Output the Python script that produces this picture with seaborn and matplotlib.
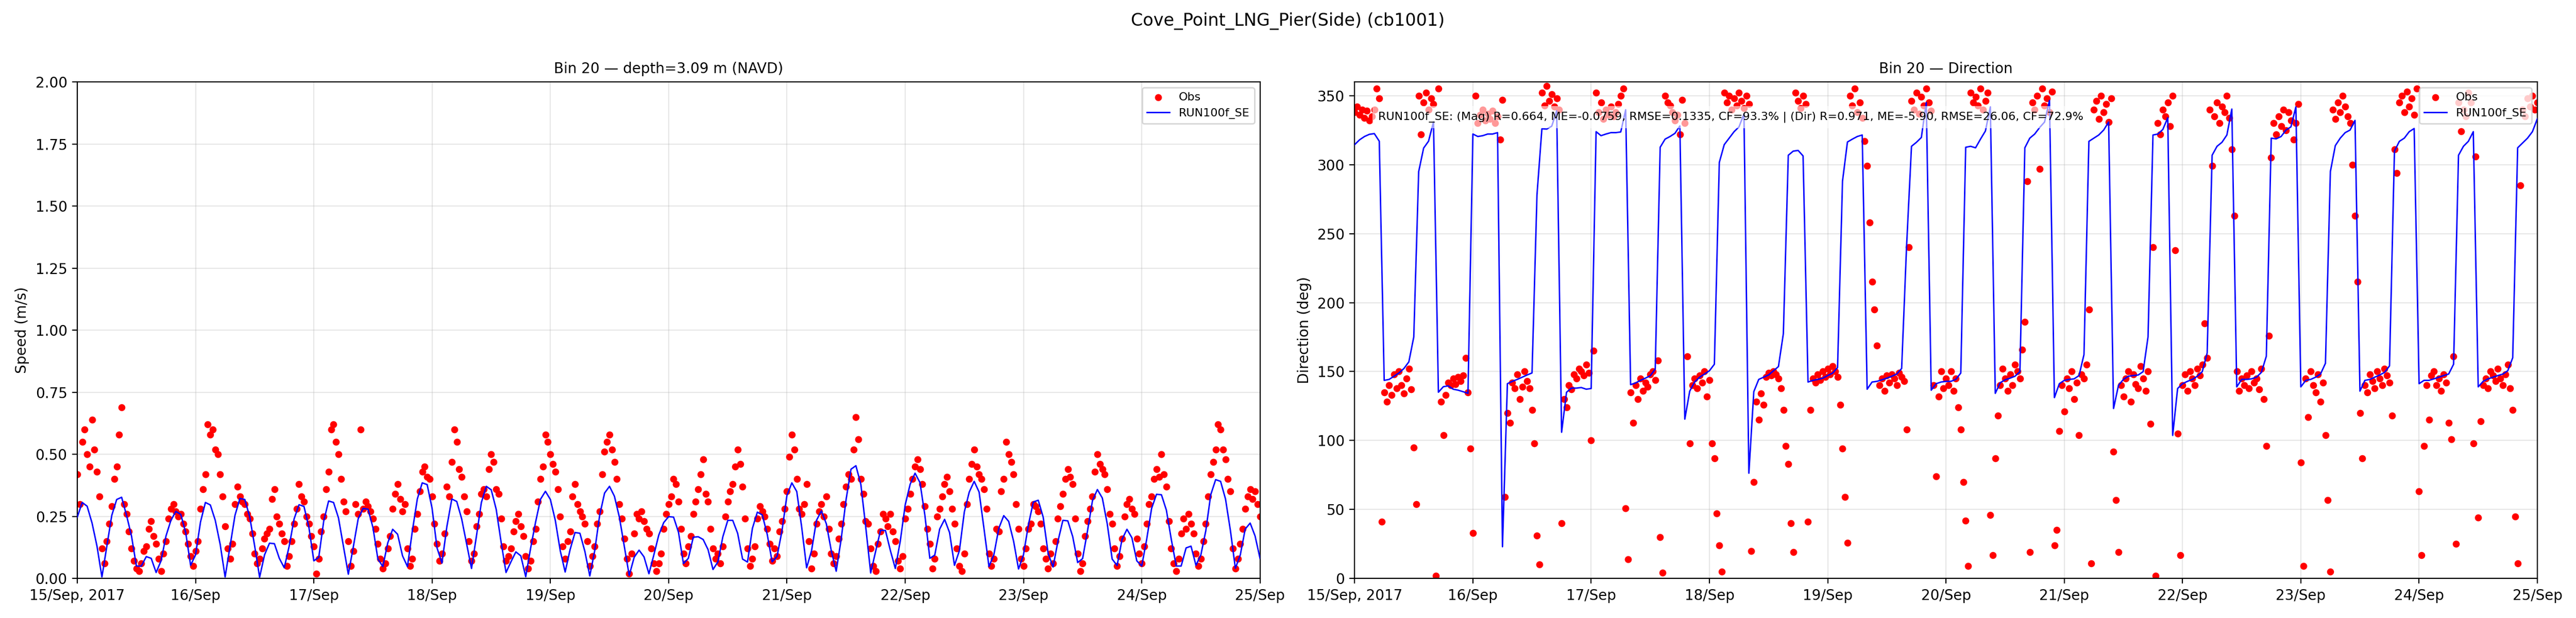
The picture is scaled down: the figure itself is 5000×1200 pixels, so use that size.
import numpy as np
import pandas as pd
import matplotlib
matplotlib.use("Agg")
import matplotlib.pyplot as plt
import seaborn as sns

# -----------------------------
# Data
# -----------------------------
start = pd.Timestamp("2017-09-15 00:00")
end = pd.Timestamp("2017-09-25 00:00")

station = "Cove_Point_LNG_Pier(Side) (cb1001)"
run_name = "RUN100f_SE"
stats_text = ("RUN100f_SE: (Mag) R=0.664, ME=-0.0759, RMSE=0.1335, CF=93.3% | "
              "(Dir) R=0.971, ME=-5.90, RMSE=26.06, CF=72.9%")

day_labels = ["15/Sep, 2017", "16/Sep", "17/Sep", "18/Sep", "19/Sep", "20/Sep",
              "21/Sep", "22/Sep", "23/Sep", "24/Sep", "25/Sep"]

# observed speed (m/s), every 30 min
obs_speed = [
    0.42, 0.30, 0.55, 0.60, 0.50, 0.45, 0.64, 0.52, 0.43, 0.33, 0.12, 0.06, 0.15, 0.22, 0.29, 0.40,
    0.45, 0.58, 0.69, 0.30, 0.26, 0.19, 0.12, 0.07, 0.04, 0.03, 0.06, 0.11, 0.13, 0.20, 0.23, 0.17,
    0.14, 0.08, 0.03, 0.10, 0.15, 0.24, 0.28, 0.30, 0.27, 0.25, 0.26, 0.22, 0.19, 0.14, 0.09, 0.05,
    0.11, 0.15, 0.28, 0.36, 0.42, 0.62, 0.58, 0.60, 0.52, 0.50, 0.42, 0.33, 0.21, 0.12, 0.08, 0.14,
    0.30, 0.37, 0.33, 0.31, 0.30, 0.26, 0.24, 0.18, 0.10, 0.06, 0.08, 0.12, 0.16, 0.18, 0.20, 0.32,
    0.36, 0.25, 0.22, 0.18, 0.15, 0.05, 0.09, 0.15, 0.22, 0.28, 0.38, 0.33, 0.31, 0.25, 0.22, 0.17,
    0.13, 0.02, 0.08, 0.19, 0.25, 0.36, 0.43, 0.60, 0.62, 0.55, 0.50, 0.40, 0.31, 0.27, 0.15, 0.05,
    0.11, 0.30, 0.26, 0.60, 0.28, 0.31, 0.29, 0.27, 0.24, 0.20, 0.14, 0.08, 0.04, 0.06, 0.12, 0.17,
    0.28, 0.34, 0.38, 0.32, 0.27, 0.30, 0.12, 0.05, 0.08, 0.20, 0.26, 0.35, 0.43, 0.45, 0.41, 0.40,
    0.33, 0.22, 0.14, 0.07, 0.10, 0.18, 0.37, 0.33, 0.47, 0.60, 0.55, 0.44, 0.41, 0.33, 0.27, 0.15,
    0.07, 0.10, 0.21, 0.26, 0.34, 0.36, 0.33, 0.44, 0.50, 0.47, 0.36, 0.34, 0.24, 0.13, 0.07, 0.09,
    0.12, 0.19, 0.23, 0.26, 0.21, 0.17, 0.09, 0.04, 0.07, 0.15, 0.20, 0.31, 0.40, 0.45, 0.58, 0.55,
    0.50, 0.46, 0.43, 0.36, 0.25, 0.13, 0.08, 0.15, 0.19, 0.33, 0.38, 0.30, 0.27, 0.25, 0.22, 0.15,
    0.05, 0.09, 0.13, 0.22, 0.27, 0.42, 0.51, 0.55, 0.58, 0.52, 0.47, 0.40, 0.30, 0.24, 0.16, 0.08,
    0.02, 0.10, 0.18, 0.26, 0.24, 0.27, 0.23, 0.20, 0.18, 0.12, 0.06, 0.03, 0.06, 0.10, 0.20, 0.26,
    0.30, 0.33, 0.40, 0.38, 0.31, 0.20, 0.10, 0.06, 0.13, 0.17, 0.26, 0.31, 0.36, 0.42, 0.48, 0.34,
    0.31, 0.20, 0.12, 0.08, 0.10, 0.06, 0.13, 0.25, 0.31, 0.35, 0.38, 0.45, 0.52, 0.46, 0.37, 0.24,
    0.12, 0.05, 0.08, 0.13, 0.24, 0.29, 0.27, 0.25, 0.20, 0.14, 0.07, 0.12, 0.09, 0.19, 0.23, 0.28,
    0.35, 0.49, 0.58, 0.52, 0.40, 0.28, 0.26, 0.30, 0.38, 0.15, 0.04, 0.10, 0.22, 0.27, 0.30, 0.25,
    0.33, 0.20, 0.10, 0.06, 0.09, 0.16, 0.22, 0.30, 0.37, 0.42, 0.40, 0.52, 0.65, 0.56, 0.40, 0.34,
    0.23, 0.22, 0.12, 0.05, 0.03, 0.14, 0.19, 0.26, 0.24, 0.21, 0.26, 0.19, 0.15, 0.07, 0.04, 0.09,
    0.24, 0.28, 0.34, 0.40, 0.45, 0.48, 0.44, 0.38, 0.29, 0.20, 0.14, 0.04, 0.08, 0.25, 0.28, 0.33,
    0.38, 0.41, 0.35, 0.28, 0.22, 0.12, 0.05, 0.03, 0.10, 0.30, 0.40, 0.46, 0.52, 0.45, 0.42, 0.40,
    0.36, 0.28, 0.10, 0.05, 0.08, 0.20, 0.19, 0.35, 0.40, 0.55, 0.50, 0.47, 0.42, 0.30, 0.20, 0.08,
    0.05, 0.12, 0.20, 0.22, 0.30, 0.29, 0.27, 0.22, 0.12, 0.08, 0.04, 0.10, 0.06, 0.15, 0.24, 0.29,
    0.34, 0.40, 0.44, 0.41, 0.38, 0.24, 0.10, 0.03, 0.06, 0.17, 0.23, 0.28, 0.33, 0.43, 0.50, 0.46,
    0.44, 0.42, 0.36, 0.26, 0.22, 0.12, 0.05, 0.09, 0.16, 0.25, 0.30, 0.32, 0.28, 0.26, 0.16, 0.10,
    0.06, 0.13, 0.22, 0.30, 0.33, 0.40, 0.44, 0.41, 0.50, 0.42, 0.37, 0.23, 0.12, 0.06, 0.03, 0.08,
    0.18, 0.24, 0.20, 0.26, 0.22, 0.18, 0.10, 0.05, 0.08, 0.15, 0.22, 0.33, 0.42, 0.47, 0.52, 0.62,
    0.60, 0.52, 0.48, 0.40, 0.35, 0.12, 0.04, 0.08, 0.14, 0.20, 0.28, 0.33, 0.36, 0.32, 0.35, 0.30,
    0.25,
]

# model speed (m/s), hourly
model_speed = [
    0.247, 0.306, 0.291, 0.223, 0.130, 0.006, 0.130, 0.254, 0.318, 0.327, 0.254, 0.171,
    0.050, 0.050, 0.088, 0.081, 0.024, 0.071, 0.171, 0.234, 0.270, 0.258, 0.185, 0.053,
    0.095, 0.227, 0.306, 0.296, 0.234, 0.137, 0.006, 0.130, 0.254, 0.322, 0.318, 0.247,
    0.130, 0.005, 0.095, 0.142, 0.140, 0.081, 0.043, 0.130, 0.240, 0.297, 0.290, 0.206,
    0.071, 0.085, 0.230, 0.312, 0.306, 0.244, 0.130, 0.017, 0.126, 0.240, 0.282, 0.279,
    0.205, 0.078, 0.048, 0.143, 0.198, 0.178, 0.091, 0.048, 0.192, 0.320, 0.385, 0.378,
    0.282, 0.123, 0.062, 0.209, 0.320, 0.310, 0.240, 0.140, 0.040, 0.171, 0.306, 0.371,
    0.357, 0.279, 0.147, 0.024, 0.067, 0.107, 0.091, 0.007, 0.123, 0.227, 0.319, 0.351,
    0.318, 0.234, 0.112, 0.026, 0.116, 0.185, 0.182, 0.109, 0.010, 0.112, 0.254, 0.344,
    0.371, 0.331, 0.247, 0.130, 0.012, 0.085, 0.114, 0.087, 0.019, 0.095, 0.175, 0.225,
    0.249, 0.247, 0.186, 0.060, 0.081, 0.166, 0.168, 0.157, 0.116, 0.036, 0.067, 0.168,
    0.234, 0.234, 0.182, 0.078, 0.066, 0.202, 0.267, 0.256, 0.178, 0.067, 0.089, 0.192,
    0.334, 0.385, 0.350, 0.206, 0.043, 0.112, 0.234, 0.272, 0.220, 0.112, 0.029, 0.157,
    0.317, 0.440, 0.454, 0.379, 0.206, 0.022, 0.109, 0.194, 0.193, 0.112, 0.040, 0.150,
    0.296, 0.379, 0.424, 0.386, 0.254, 0.081, 0.094, 0.199, 0.238, 0.185, 0.053, 0.112,
    0.268, 0.348, 0.391, 0.348, 0.199, 0.048, 0.096, 0.202, 0.253, 0.230, 0.150, 0.038,
    0.095, 0.216, 0.308, 0.315, 0.247, 0.102, 0.046, 0.150, 0.234, 0.232, 0.168, 0.064,
    0.080, 0.192, 0.313, 0.358, 0.324, 0.220, 0.078, 0.052, 0.157, 0.198, 0.164, 0.071,
    0.050, 0.157, 0.282, 0.339, 0.337, 0.275, 0.157, 0.050, 0.050, 0.123, 0.130, 0.053,
    0.095, 0.192, 0.337, 0.398, 0.391, 0.320, 0.192, 0.041, 0.095, 0.199, 0.223, 0.171,
    0.081,
]

# observed direction (deg), every 30 min
obs_dir = [
    338, 342, 336, 340, 334, 339, 332, 335, 340, 355, 348, 41, 135, 128, 140, 133,
    148, 138, 150, 140, 134, 145, 152, 137, 95, 54, 350, 322, 345, 352, 340, 348,
    344, 2, 355, 128, 104, 133, 142, 140, 145, 141, 146, 143, 147, 160, 135, 94,
    33, 350, 330, 336, 340, 332, 337, 333, 339, 330, 335, 318, 347, 59, 120, 113,
    142, 138, 148, 130, 139, 150, 143, 138, 122, 98, 31, 10, 352, 343, 357, 346,
    351, 342, 348, 340, 40, 130, 124, 140, 137, 148, 145, 152, 150, 147, 155, 149,
    100, 165, 352, 338, 345, 333, 340, 336, 342, 335, 338, 344, 350, 355, 51, 14,
    135, 113, 140, 130, 145, 136, 142, 139, 148, 150, 144, 158, 30, 4, 350, 345,
    343, 338, 332, 336, 322, 347, 330, 161, 98, 140, 145, 138, 147, 142, 150, 132,
    144, 98, 87, 47, 24, 5, 352, 345, 350, 340, 348, 343, 352, 346, 341, 350,
    344, 20, 70, 128, 115, 134, 126, 146, 149, 147, 150, 148, 145, 138, 122, 96,
    83, 40, 19, 352, 346, 341, 350, 344, 41, 122, 145, 142, 148, 144, 150, 146,
    152, 148, 154, 150, 146, 126, 94, 59, 26, 350, 343, 355, 338, 345, 334, 317,
    299, 258, 215, 195, 169, 140, 145, 136, 147, 142, 148, 145, 140, 149, 146, 143,
    108, 240, 346, 340, 352, 337, 349, 343, 355, 345, 339, 140, 74, 132, 150, 138,
    145, 140, 150, 136, 145, 124, 108, 70, 42, 9, 352, 345, 349, 343, 355, 340,
    346, 352, 46, 17, 87, 118, 140, 152, 145, 136, 148, 140, 155, 150, 145, 166,
    186, 288, 19, 345, 340, 350, 297, 355, 343, 348, 338, 353, 24, 35, 107, 140,
    121, 145, 138, 150, 130, 142, 104, 148, 145, 155, 195, 11, 340, 346, 333, 350,
    338, 344, 331, 348, 92, 57, 19, 140, 132, 145, 150, 128, 148, 141, 138, 154,
    145, 136, 150, 112, 240, 2, 330, 322, 340, 335, 345, 328, 350, 238, 105, 17,
    140, 148, 136, 150, 145, 140, 152, 147, 155, 185, 160, 340, 299, 335, 345, 330,
    342, 338, 350, 334, 311, 263, 150, 136, 145, 140, 147, 138, 150, 142, 145, 137,
    152, 130, 96, 176, 305, 330, 322, 335, 328, 340, 325, 338, 332, 318, 330, 344,
    84, 9, 145, 117, 150, 140, 135, 148, 128, 142, 104, 57, 5, 340, 333, 345,
    338, 350, 342, 335, 330, 300, 263, 215, 120, 87, 140, 135, 148, 143, 138, 150,
    145, 140, 152, 147, 142, 118, 311, 294, 345, 350, 338, 353, 342, 348, 336, 355,
    63, 17, 96, 140, 115, 147, 150, 140, 145, 136, 148, 142, 113, 101, 161, 25,
    345, 324, 340, 335, 352, 345, 98, 306, 44, 114, 140, 145, 138, 150, 147, 143,
    152, 145, 140, 148, 155, 138, 122, 45, 11, 285, 340, 335, 348, 342, 350, 340,
    345,
]

# model direction (deg), hourly
model_dir = [
    314.5, 318, 320.4, 322, 322.5, 317, 143.6, 144.3, 146.6, 149, 152.2, 157,
    175, 295, 312, 317, 331, 135, 139, 139.6, 137.2, 136.5, 135.4, 134.2,
    322.2, 320.4, 321, 322.2, 322.2, 323.2, 23, 141.2, 142.9, 144.3, 145.9, 147.5,
    149, 278, 326, 325.8, 327.9, 339, 106, 135, 138, 138, 138.4, 137.2,
    137.7, 323.9, 321, 322.2, 323.2, 323.2, 323.7, 339.8, 140.5, 141.7, 143.6, 145.2,
    147, 151.8, 312.6, 318.5, 320.4, 322.7, 328.1, 115.5, 135.8, 142.4, 145.9, 148.2,
    150.6, 155.3, 301.6, 314.5, 319.2, 323.9, 327.4, 336.8, 76.3, 135.4, 144.3, 145.9,
    147.5, 150.6, 153.6, 177.5, 306.8, 309.8, 310.3, 306.3, 142.4, 143.6, 144.3, 145.2,
    147.1, 148.9, 152.9, 288, 316.4, 318.5, 320.4, 321.5, 137.2, 142.4, 142.9, 144,
    145.2, 146.6, 148.2, 152.2, 240.7, 313.3, 316.2, 319.7, 345, 136.5, 141.2, 142.4,
    142.9, 142.9, 144.3, 148.9, 312.6, 313.3, 312.2, 318.5, 324.4, 341.9, 134.2, 141.9,
    144, 145.2, 146.6, 149.9, 312.2, 319.2, 322.2, 326.9, 330.9, 346.6, 131.1, 141.2,
    143.6, 144.3, 144.7, 147.1, 162.3, 316.9, 319.2, 321.5, 325.1, 330.9, 123.2, 140,
    144.3, 146.6, 147.1, 147.5, 149.9, 175.2, 321.5, 322.2, 325.5, 334, 103.7, 137.7,
    141.2, 142.9, 144.3, 146.6, 149.9, 163.5, 306.8, 313.3, 316.2, 321.5, 340.3, 138.9,
    144.3, 144.3, 144.7, 145.9, 149.4, 161.1, 319.2, 318.7, 320.4, 325.1, 327.4, 341.9,
    138.9, 143.6, 144.3, 145.9, 148.2, 156, 295, 313.8, 319.2, 323.2, 325.1, 332.1,
    135.8, 143.6, 144.3, 145.9, 147.5, 149.4, 154.1, 309.8, 316.9, 319.2, 323.9, 326.2,
    141.2, 143.6, 143.6, 144.7, 145.9, 147.1, 148.2, 155.3, 306.8, 313.3, 316.9, 323.9,
    138.9, 142.9, 144.7, 145.9, 147.1, 148.2, 150.6, 160, 312.2, 315.7, 319.2, 323.9,
    333.3,
]

# time stamps for the series
t_obs = pd.date_range(start, periods=len(obs_speed), freq="30min")
t_model = pd.date_range(start, periods=len(model_speed), freq="h")
day_ticks = pd.date_range(start, end, freq="D")

# -----------------------------
# Plot
# -----------------------------
fig, axes = plt.subplots(1, 2, figsize=(25, 6), dpi=200)
plt.subplots_adjust(left=0.030, right=0.985, bottom=0.064, top=0.8675, wspace=0.08)

panels = [
    (axes[0], obs_speed, model_speed, "Bin 20 \u2014 depth=3.09 m (NAVD)", "Speed (m/s)", (0, 2)),
    (axes[1], obs_dir, model_dir, "Bin 20 \u2014 Direction", "Direction (deg)", (0, 360)),
]

for ax, obs, mod, title, ylabel, ylim in panels:
    sns.scatterplot(x=t_obs, y=np.array(obs, dtype=float), ax=ax, color="red",
                    s=24, linewidth=0, label="Obs", zorder=2)
    sns.lineplot(x=t_model, y=np.array(mod, dtype=float), ax=ax, color="blue",
                 linewidth=1, label=run_name, zorder=3)
    ax.set_xlim(start, end)
    ax.set_ylim(*ylim)
    ax.set_xticks(day_ticks)
    ax.set_xticklabels(day_labels)
    ax.set_title(title, fontsize=10)
    ax.set_xlabel("")
    ax.set_ylabel(ylabel)
    ax.grid(True, alpha=0.3)
    ax.legend(loc="upper right", fontsize=8)

axes[1].text(0.02, 0.94, stats_text, transform=axes[1].transAxes, fontsize=8,
             va="top", ha="left",
             bbox=dict(facecolor="white", alpha=0.6, edgecolor="none"))

fig.suptitle(station, fontsize=12)

plt.savefig("out.png", dpi=200)
